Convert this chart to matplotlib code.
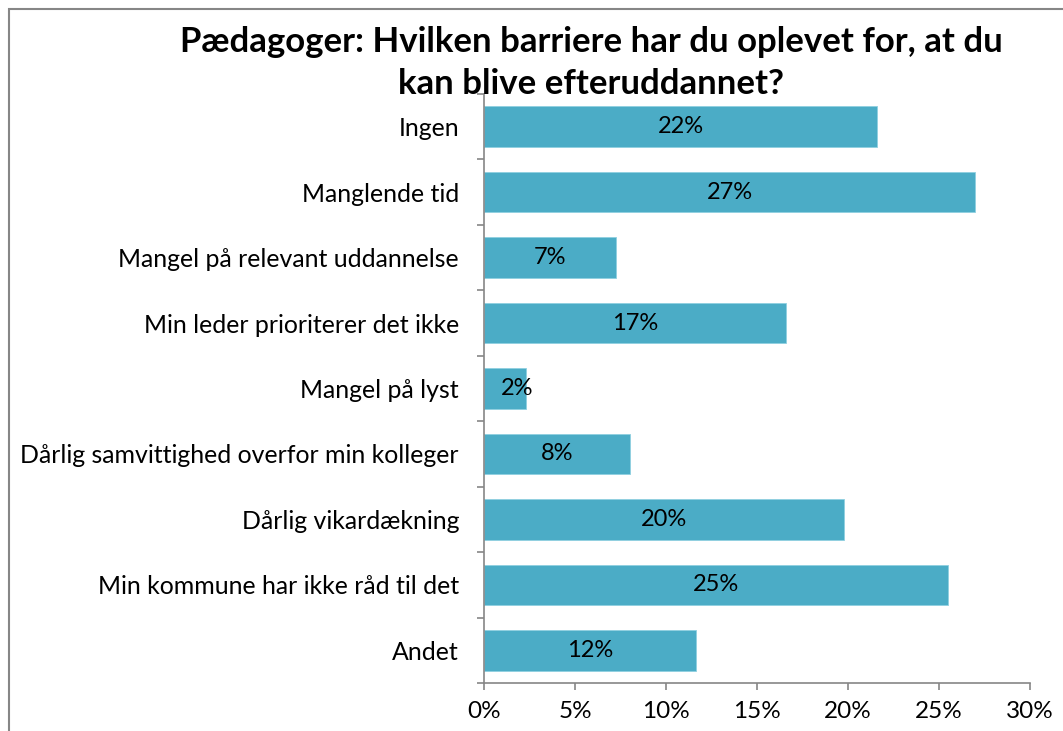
import matplotlib
matplotlib.use('Agg')
from matplotlib import pyplot as plt
from matplotlib.patches import Rectangle
import numpy as np

categories = ['Ingen',
              'Manglende tid',
              'Mangel på relevant uddannelse',
              'Min leder prioriterer det ikke',
              'Mangel på lyst',
              'Dårlig samvittighed overfor min kolleger',
              'Dårlig vikardækning',
              'Min kommune har ikke råd til det',
              'Andet']
shares = [21.6, 27.0, 7.25, 16.6, 2.3, 8.0, 19.8, 25.5, 11.65]
share_labels = ['22%', '27%', '7%', '17%', '2%', '8%', '20%', '25%', '12%']
xticks = [0, 5, 10, 15, 20, 25, 30]

title = 'Pædagoger: Hvilken barriere har du oplevet for, at du\nkan blive efteruddannet?'

plt.rcParams['font.family'] = ['Lato', 'DejaVu Sans']
grey = '#868686'
bar_color = '#4BACC6'

fig = plt.figure(figsize=(10.63, 7.31), dpi=100)
ax = fig.add_axes([484 / 1063, 1 - 683 / 731, (1030 - 484) / 1063, (683 - 94) / 731])

y = np.arange(len(categories))
ax.barh(y, shares, height=0.62, color=bar_color, edgecolor='#8fd0e0', linewidth=0.6)
for yi, v, lab in zip(y, shares, share_labels):
    # Excel nudges labels that do not fit inside a short bar
    ax.text(max(v / 2, 1.8), yi, lab, ha='center', va='center', fontsize=17, color='black')

ax.set_ylim(len(categories) - 0.5, -0.5)
ax.set_xlim(0, 30)
ax.set_yticks(y)
ax.set_yticklabels(categories, fontsize=17.9)
ax.set_yticks(np.arange(-0.5, len(categories), 1), minor=True)
ax.tick_params(axis='y', which='major', length=0, pad=18)
ax.tick_params(axis='y', which='minor', length=5, color=grey, width=1.2, direction='out')
ax.set_xticks(xticks)
ax.set_xticklabels([f'{t}%' for t in xticks], fontsize=17.5)
ax.tick_params(axis='x', length=5, color=grey, width=1.2, direction='out', pad=8)

for s in ['top', 'right']:
    ax.spines[s].set_visible(False)
for s in ['left', 'bottom']:
    ax.spines[s].set_color(grey)
    ax.spines[s].set_linewidth(1.2)

fig.text(591 / 1063, 1 - 63 / 731, title, ha='center', va='center',
         fontsize=25, fontweight='bold', linespacing=1.38)

# chart frame
fig.patches.append(Rectangle((9 / 1063, -0.1), 1.2, 1 - 9 / 731 + 0.1,
                             transform=fig.transFigure, fill=False,
                             edgecolor=grey, linewidth=1.5))

fig.savefig('out.png', dpi=100)
